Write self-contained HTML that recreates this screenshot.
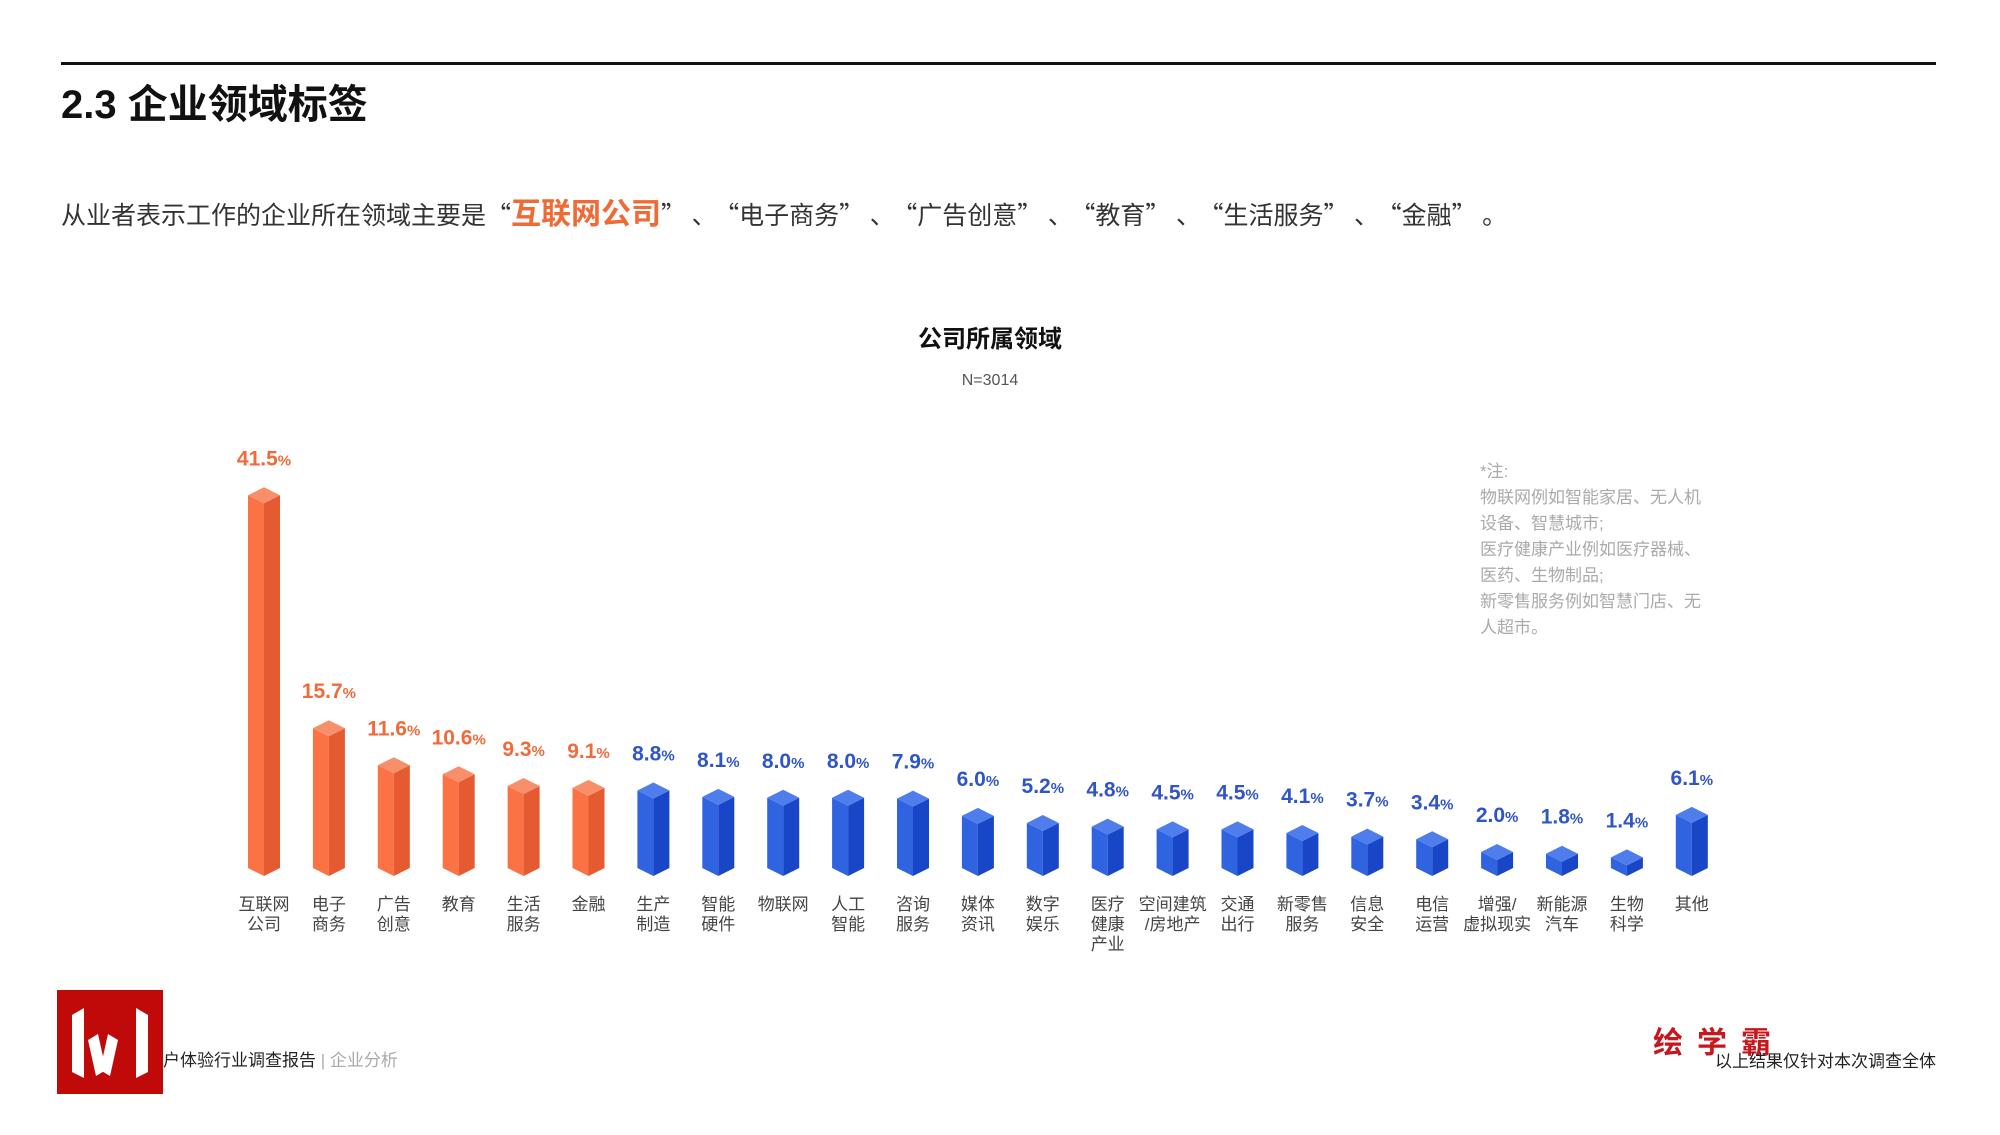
<!DOCTYPE html>
<html><head><meta charset="utf-8"><style>
html,body{margin:0;padding:0;background:#fff;}
svg{display:block;font-family:"Liberation Sans","Noto Sans CJK SC",sans-serif;}
</style></head><body>
<svg width="2000" height="1135" viewBox="0 0 2000 1135" xmlns="http://www.w3.org/2000/svg">
<rect x="61" y="62" width="1875" height="3" fill="#111"/>
<text x="61" y="118" font-size="40" font-weight="bold" fill="#111">2.3 企业领域标签</text>
<text x="61" y="224" font-size="25" fill="#333" font-family="'Noto Sans CJK SC',sans-serif">从业者表示工作的企业所在领域主要是“<tspan fill="#f06a35" font-weight="bold" font-size="30">互联网公司</tspan>” 、<tspan dx="10">“电子商务” 、</tspan><tspan dx="10">“广告创意” 、</tspan><tspan dx="10">“教育” 、</tspan><tspan dx="10">“生活服务” 、</tspan><tspan dx="10">“金融” 。</tspan></text>
<text x="990" y="347" font-size="24" font-weight="bold" fill="#111" text-anchor="middle">公司所属领域</text>
<text x="990" y="385" font-size="16" fill="#555" text-anchor="middle">N=3014</text>
<g font-size="17" fill="#aaa">
<text x="1480" y="477">*注:</text>
<text x="1480" y="503">物联网例如智能家居、无人机</text>
<text x="1480" y="529">设备、智慧城市;</text>
<text x="1480" y="555">医疗健康产业例如医疗器械、</text>
<text x="1480" y="581">医药、生物制品;</text>
<text x="1480" y="607">新零售服务例如智慧门店、无</text>
<text x="1480" y="633">人超市。</text>
</g>
<g id="bars"></g>
<rect x="57" y="990" width="106" height="104" fill="#c00a0a"/>
<g fill="#fff">
<polygon points="72,1015 84,1008 84,1078 72,1072"/>
<polygon points="88,1040 98,1034 106,1070 96,1076"/>
<polygon points="108,1034 118,1040 110,1076 100,1070"/>
<polygon points="136,1008 148,1015 148,1072 136,1078"/>
</g>
<text x="163" y="1066" font-size="17" fill="#222">户体验行业调查报告<tspan fill="#aaa"> | 企业分析</tspan></text>
<text x="1653" y="1053" font-size="30" font-weight="bold" fill="#c8161d" letter-spacing="14">绘学霸</text>
<text x="1936" y="1067" font-size="17" fill="#222" text-anchor="end">以上结果仅针对本次调查全体</text>
</svg>
<script>
var d=[["互联网|公司",41.5],["电子|商务",15.7],["广告|创意",11.6],["教育",10.6],["生活|服务",9.3],["金融",9.1],["生产|制造",8.8],["智能|硬件",8.1],["物联网",8.0],["人工|智能",8.0],["咨询|服务",7.9],["媒体|资讯",6.0],["数字|娱乐",5.2],["医疗|健康|产业",4.8],["空间建筑|/房地产",4.5],["交通|出行",4.5],["新零售|服务",4.1],["信息|安全",3.7],["电信|运营",3.4],["增强/|虚拟现实",2.0],["新能源|汽车",1.8],["生物|科学",1.4],["其他",6.1]];
var s="";
d.forEach(function(e,i){
 var c=264+i*64.9,w=16,p=e[1],T=870-p*9.03,B=868,o=i<6;
 var L=o?"#fb7345":"#2f63e0",R=o?"#e55a30":"#1846c6",Tp=o?"#f7906a":"#4f7eec",tc=o?"#f06a3a":"#2f55c8";
 s+='<polygon points="'+(c-w)+','+T+' '+c+','+(T+8)+' '+c+','+(B+8)+' '+(c-w)+','+B+'" fill="'+L+'"/>';
 s+='<polygon points="'+c+','+(T+8)+' '+(c+w)+','+T+' '+(c+w)+','+B+' '+c+','+(B+8)+'" fill="'+R+'"/>';
 s+='<polygon points="'+(c-w)+','+T+' '+c+','+(T-8)+' '+(c+w)+','+T+' '+c+','+(T+8)+'" fill="'+Tp+'"/>';
 s+='<text x="'+c+'" y="'+(T-30)+'" font-size="21" font-weight="bold" fill="'+tc+'" text-anchor="middle">'+p.toFixed(1)+'<tspan font-size="15">%</tspan></text>';
 e[0].split("|").forEach(function(t,j){s+='<text x="'+c+'" y="'+(910+j*20)+'" font-size="17" fill="#444" text-anchor="middle">'+t+'</text>';});
});
document.getElementById("bars").innerHTML=s;
</script>
</body></html>
